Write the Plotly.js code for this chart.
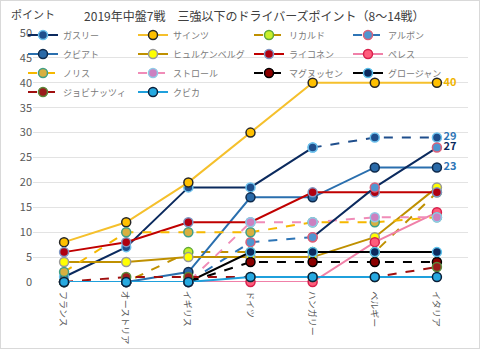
<!DOCTYPE html>
<html><head><meta charset="utf-8">
<script src="https://cdn.plot.ly/plotly-3.0.1.min.js"></script>
<style>html,body{margin:0;padding:0;background:#fff}#c{width:478px;height:347px;border:1px solid #d9d9d9}</style>
</head><body><div id="c"></div>
<script>
const races = ["フランス","オーストリア","イギリス","ドイツ","ハンガリー","ベルギー","イタリア"];
const yTicks = [0,5,10,15,20,25,30,35,40,45,50];
const gasly = [1,7,19,19,27,29,29];
const sainz = [8,12,20,30,40,40,40];
const ricciardo = [0,0,6,6,6,6,18];
const albon = [0,0,0,8,9,19,27];
const kvyat = [0,0,2,17,17,23,23];
const hulkenberg = [4,4,5,5,5,9,19];
const raikkonen = [6,8,12,12,18,18,18];
const perez = [0,0,0,0,0,8,14];
const norris = [2,10,10,10,12,12,13];
const stroll = [0,0,0,12,12,13,13];
const magnussen = [0,0,0,4,4,4,4];
const grosjean = [0,0,0,6,6,6,6];
const giovinazzi = [0,1,1,1,1,1,3];
const kubica = [0,0,0,1,1,1,1];
const names = ["ガスリー","サインツ","リカルド","アルボン","クビアト","ヒュルケンベルグ","ライコネン","ペレス","ノリス","ストロール","マグヌッセン","グロージャン","ジョビナッツィ","クビカ"];

function tr(name, y, lc, dash, mf, mb, opts) {
  opts = opts || {};
  const x = opts.x || races;
  const t = {
    type: 'scatter', mode: 'lines+markers', name: name, x: x, y: y,
    line: {color: lc, width: 2, dash: dash},
    marker: {size: 9, color: mf, line: {color: mb, width: 1.5}},
    cliponaxis: false, showlegend: opts.showlegend !== false,
    legend: opts.legend || 'legend'
  };
  if (opts.label) {
    t.mode = 'lines+markers+text';
    t.text = y.map((v, i) => i === y.length - 1 ? String(v) : '');
    t.textposition = 'middle right';
    t.textfont = {color: opts.label, size: 11, family: 'Noto Sans CJK JP', weight: 'bold'};
  }
  return t;
}
const sl = (a, s, e) => a.slice(s, e);
const data = [
  tr(names[0], sl(gasly,0,5), '#0b2a5e', 'solid', '#1f4e8c', '#6cc0ec', {x: sl(races,0,5), legend: 'legend'}),
  tr(names[1], sainz, '#f5c02c', 'solid', '#ffc000', '#262626', {label: '#f0b400', legend: 'legend2'}),
  tr(names[2], ricciardo, '#bf9000', 'dash', '#c8f02a', '#5fa83a', {legend: 'legend3'}),
  tr(names[3], sl(albon,0,5), '#2e75b6', 'dash', '#4f95d0', '#d9607a', {x: sl(races,0,5), legend: 'legend4'}),
  tr(names[4], kvyat, '#2a6fae', 'solid', '#2a6aa8', '#0e2a4c', {label: '#2e75b6', legend: 'legend'}),
  tr(names[5], hulkenberg, '#bf9000', 'solid', '#ffff00', '#999999', {legend: 'legend2'}),
  tr(names[6], raikkonen, '#c00000', 'solid', '#b00010', '#7f97c4', {legend: 'legend3'}),
  tr(names[7], perez, '#f080a8', 'solid', '#ff5c7c', '#d8204c', {legend: 'legend4'}),
  tr(names[8], norris, '#f5b800', 'dash', '#d8b040', '#3f9f86', {legend: 'legend'}),
  tr(names[9], stroll, '#f08cb8', 'dash', '#cc80c0', '#8ecae6', {legend: 'legend2'}),
  tr(names[10], magnussen, '#000000', 'dash', '#8b0000', '#000000', {legend: 'legend3'}),
  tr(names[11], grosjean, '#000000', 'solid', '#0b2a5e', '#5bc0eb', {legend: 'legend4'}),
  tr(names[12], giovinazzi, '#a00f0f', 'dash', '#9b1c1c', '#5a8a3a', {legend: 'legend'}),
  tr(names[13], kubica, '#1fa0dc', 'solid', '#26a9e0', '#0b1f3a', {legend: 'legend2'}),
  tr(names[0], sl(gasly,4,7), '#1f4e8c', 'dash', '#1f4e8c', '#6cc0ec', {x: sl(races,4,7), showlegend: false, label: '#2e75b6'}),
  tr(names[3], sl(albon,4,7), '#0b2a5e', 'solid', '#4f95d0', '#d9607a', {x: sl(races,4,7), showlegend: false, label: '#0b2a5e'})
];
const raceLabels = races.map(r => ({
  text: r, xref: 'x', yref: 'paper', x: r, y: 0, yshift: -7, xanchor: 'center', yanchor: 'top',
  textangle: 90, showarrow: false, font: {size: 9, color: '#595959'}
}));
const PW = 435, PL = 32;
function lg(px) {
  return {orientation: 'v', x: (px - PL) / PW, xanchor: 'left', y: 1.05, yanchor: 'top', bgcolor: 'rgba(0,0,0,0)',
    itemwidth: 30, tracegroupgap: 0, font: {size: 9, color: '#7a7a7a'}, traceorder: 'normal'};
}
const layout = {
  width: 478, height: 347,
  margin: {l: PL, r: 11, t: 32, b: 66},
  paper_bgcolor: '#fff', plot_bgcolor: '#fff',
  font: {family: 'Noto Sans CJK JP', color: '#595959', size: 11},
  title: {text: '2019年中盤7戦　三強以下のドライバーズポイント（8～14戦）', x: 0.53, xanchor: 'center', y: 0.955, yanchor: 'middle', font: {size: 12, color: '#404040'}},
  xaxis: {type: 'category', range: [-0.5, 6.5], showgrid: false, zeroline: false, showline: false, showticklabels: false, ticks: ''},
  yaxis: {range: [0, 50], tickvals: yTicks, showgrid: true, gridcolor: '#e3e3e3', gridwidth: 1, zeroline: false, showline: false, ticks: '', tickfont: {size: 11, color: '#595959'}},
  showlegend: true,
  legend: lg(22), legend2: lg(132), legend3: lg(248), legend4: lg(347),
  annotations: [{text: 'ポイント', xref: 'paper', yref: 'paper', x: -0.055, y: 1.075, xanchor: 'left', yanchor: 'middle', showarrow: false, font: {size: 11, color: '#404040'}}].concat(raceLabels)
};
Plotly.newPlot('c', data, layout, {displayModeBar: false, staticPlot: true});
</script></body></html>
